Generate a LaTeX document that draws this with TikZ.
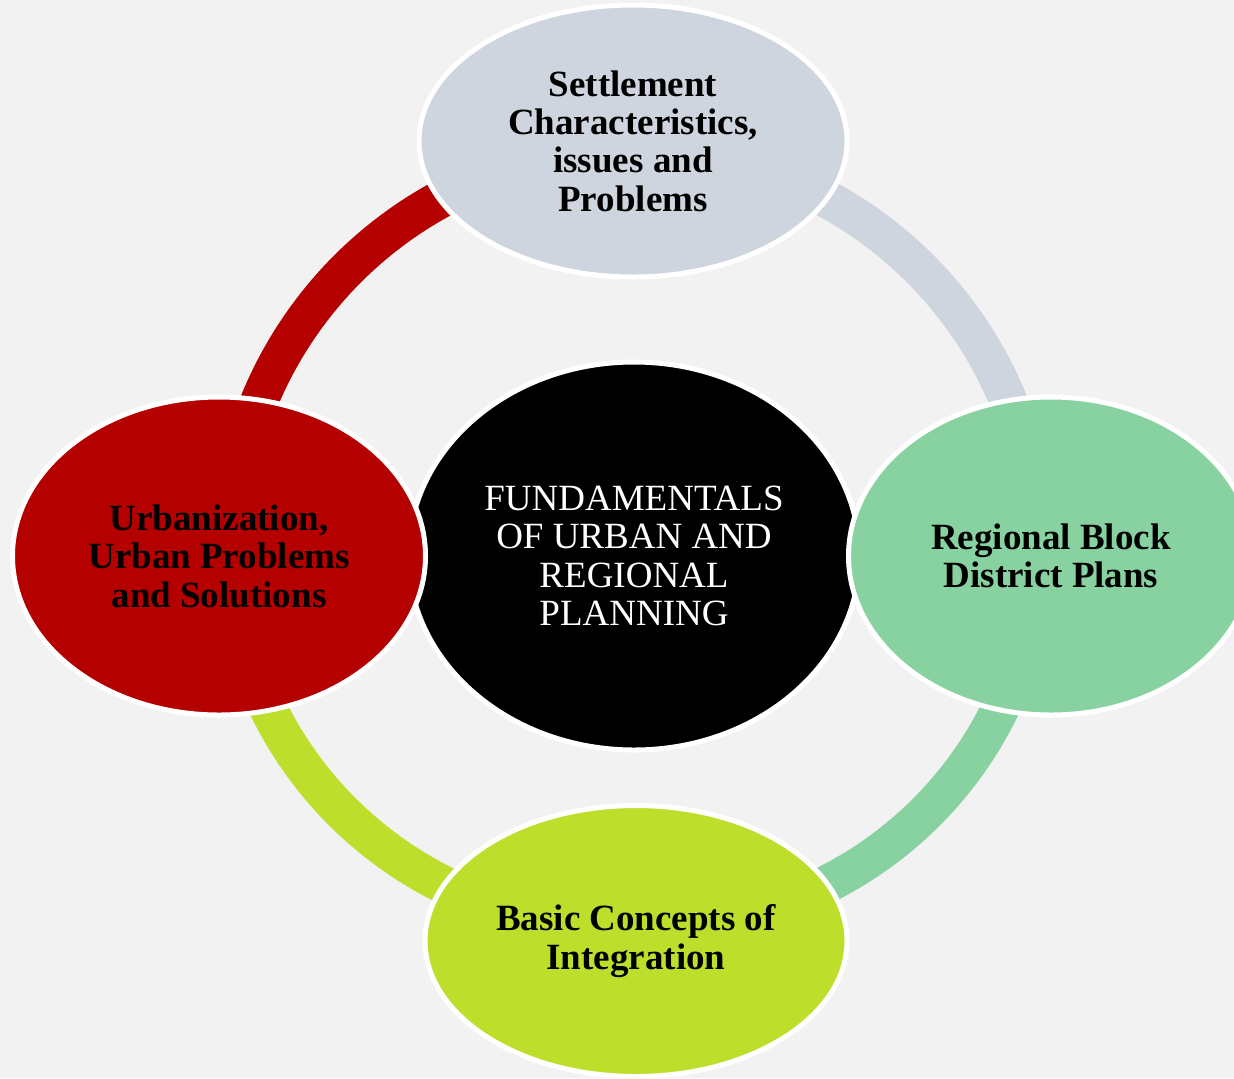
\documentclass[tikz,border=0pt]{standalone}
\usepackage{fontspec}
\setmainfont{Liberation Serif}
\usetikzlibrary{shapes.geometric,calc,backgrounds}
\definecolor{fond}{HTML}{F2F2F2}
\definecolor{gris}{HTML}{CED5DE}
\definecolor{rouge}{HTML}{B50000}
\definecolor{vert}{HTML}{88D2A1}
\definecolor{citron}{HTML}{BDDF2C}
\begin{document}
\begin{tikzpicture}[x=0.5pt,y=-0.5pt]
            \tikzstyle{bulle}=[ellipse,draw=white,line width=2.5pt,inner sep=0pt,align=center,font=\fontsize{18.5}{19.2}\selectfont\bfseries]
            \tikzstyle{anneau}=[line width=19pt]
            \useasboundingbox (0,0) rectangle (1234,1078);
            \node[bulle,fill=black,text=white,font=\fontsize{18.5}{19.3}\selectfont,minimum width=225.5pt,minimum height=194pt] (centre) at (634,556) {FUNDAMENTALS\\OF URBAN AND\\REGIONAL\\PLANNING};
            \node[bulle,fill=gris,minimum width=214pt,minimum height=136pt] (haut) at (633,141) {Settlement\\Characteristics,\\issues and\\Problems};
            \node[bulle,fill=vert,minimum width=202.5pt,minimum height=159pt] (droite) at (1051,556) {Regional Block\\District Plans};
            \node[bulle,fill=citron,minimum width=211pt,minimum height=135.5pt] (bas) at (636,941) {Basic Concepts of\\Integration};
            \node[bulle,fill=rouge,minimum width=206.5pt,minimum height=159pt] (gauche) at (219,556) {Urbanization,\\Urban Problems\\and Solutions};
            \begin{pgfonlayer}{background}
            \fill[fond] (0,0) rectangle (1234,1078);
            \draw[anneau,rouge] ($(gauche)!.024!(centre)$) to[bend left=45] ($(haut)!.022!(centre)$);
            \draw[anneau,gris] ($(haut)!.022!(centre)$) to[bend left=45] ($(droite)!.029!(centre)$);
            \draw[anneau,vert] ($(droite)!.029!(centre)$) to[bend left=45] ($(bas)!.042!(centre)$);
            \draw[anneau,citron] ($(bas)!.042!(centre)$) to[bend left=45] ($(gauche)!.024!(centre)$);
            \end{pgfonlayer}
        \end{tikzpicture}
\end{document}
